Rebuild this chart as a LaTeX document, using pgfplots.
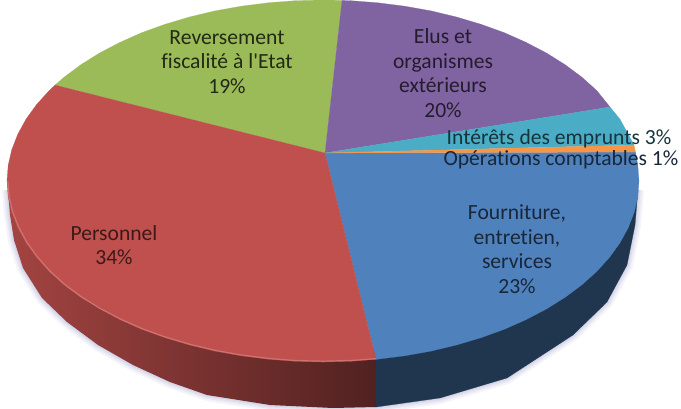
\documentclass[border=0pt]{standalone}
\usepackage{fontspec}
\newfontfamily\calfont[Ligatures=NoCommon]{Carlito}
\usepackage{pgfplots}
\pgfplotsset{compat=1.18}
\definecolor{cgreen}{HTML}{9BBB59}
\definecolor{cpurple}{HTML}{8064A2}
\definecolor{ccyan}{HTML}{4BACC6}
\definecolor{corange}{HTML}{F79646}
\definecolor{cblue}{HTML}{4F81BD}
\definecolor{cred}{HTML}{C0504D}
\definecolor{navy}{HTML}{20364F}
\begin{document}
\begin{tikzpicture}
\begin{axis}[hide axis,scale only axis,width=681pt,height=409pt,xmin=0,xmax=681,ymin=0,ymax=409,y dir=reverse]
% soft shadow round the outer edge
\pgfplotsinvokeforeach{12,8,5,2.5}{
\addplot[draw=gray!70!blue,line width=#1pt,opacity=.07,forget plot] coordinates {(8,190)(10,215)(14,240)(23,268)(42,298)(67,322)(98,345)(133,365)(170,382)(207,395)(270,405)(333,408)(376,407)(440,398)(507,378)(573,335)(607,302)(627,265)(635,225)(638,190)};
}
% sides
\addplot[left color=cred!85!black,middle color=cred!62!black,right color=cred!42!black,draw=none,forget plot] coordinates {(7,181)(8,190)(10,215)(14,240)(23,268)(42,298)(67,322)(98,345)(133,365)(170,382)(207,395)(270,405)(333,408)(376,407)(376,350)} --cycle;
\addplot[fill=navy,draw=navy,line width=.2pt,forget plot] coordinates {(376,350)(376,407)(440,398)(507,378)(573,335)(607,302)(627,265)(635,225)(638,190)} --cycle;
% Reversement 19
\addplot[fill=cgreen,draw=cgreen,line width=.2pt,forget plot] coordinates {(325,153)(342,0.4)(323,0)(295.4,0.7)(268.1,2.8)(241.2,6.2)(214.9,10.9)(189.5,17.0)(165,24.3)(141.7,32.7)(119.9,42.4)(99.6,53)(80.9,64.7)(64.1,77.2)(55,85.1)} --cycle;
% Elus 20
\addplot[fill=cpurple,draw=cpurple,line width=.2pt,forget plot] coordinates {(325,153)(610,107)(596.7,90.5)(581.9,77.2)(565.1,64.7)(546.4,53)(526.1,42.4)(504.3,32.7)(481,24.3)(456.5,17)(431.1,10.9)(404.8,6.2)(377.9,2.8)(350.6,0.7)(342,0.4)} --cycle;
% Fourniture 23
\addplot[fill=cblue,draw=cblue,line width=.2pt,forget plot] coordinates {(325,153)(635.5,152)(637.8,165.2)(639,181)(637.8,196.8)(634.2,212.4)(628.2,227.8)(619.9,242.9)(609.4,257.5)(596.7,271.5)(581.9,284.8)(565.1,297.3)(546.4,309)(526.1,319.6)(504.3,329.3)(481,337.7)(456.5,345)(431.1,351.1)(404.8,355.8)(376,359.4)} --cycle;
% Interets 3
\addplot[fill=ccyan,draw=ccyan,line width=.2pt,forget plot] coordinates {(325,153)(634,145)(628.2,134.2)(619.9,119.1)(610,107)} --cycle;
% Operations 1
\addplot[fill=corange,draw=corange,line width=.2pt,forget plot] coordinates {(325,153)(635.5,152)(634,145)} --cycle;
% Personnel 34
\addplot[fill=cred,draw=cred,line width=.2pt,forget plot] coordinates {(325,153)(376,359.4)(350.6,361.3)(323,362)(295.4,361.3)(268.1,359.2)(241.2,355.8)(214.9,351.1)(189.5,345)(165,337.7)(141.7,329.3)(119.9,319.6)(99.6,308)(80.9,297.3)(64.1,284.8)(49.3,271.5)(36.6,257.5)(26.1,242.9)(17.8,227.8)(11.8,212.4)(8.2,196.8)(7,181)(8.2,165.2)(11.8,149.6)(17.8,134.2)(26.1,119.1)(36.6,104.5)(49.3,90.5)(55,85.1)} --cycle;
% rim highlight
\addplot[draw=cred!80!white,line width=1.2pt,forget plot] coordinates {(376,358.6)(350.6,360.5)(323,361.2)(295.4,360.5)(268.1,358.4)(241.2,355)(214.9,350.3)(189.5,344.2)(165,336.9)(141.7,328.5)(119.9,318.8)(99.6,308.2)(80.9,296.5)(64.1,284)(49.6,270.7)(37.2,256.7)(26.8,242.1)(18.6,227)(12.6,211.6)(9,196)(7.8,181)};
% labels
\tikzset{lab/.style={align=center,font=\calfont\fontsize{21.6}{24.5}\selectfont,inner sep=0pt}}
\node[lab,text=cgreen!22!black] at (axis cs:227,62) {Reversement\\fiscalité à l'Etat\\19\%};
\node[lab,text=cpurple!28!black] at (axis cs:443,73) {Elus et\\organismes\\extérieurs\\20\%};
\node[lab,text=ccyan!30!black] at (axis cs:559,139) {Intérêts des emprunts 3\%};
\node[lab,text=cblue!30!black] at (axis cs:561,160) {Opérations comptables 1\%};
\node[lab,text=cblue!30!black] at (axis cs:517,249) {Fourniture,\\entretien,\\services\\23\%};
\node[lab,text=cred!32!black] at (axis cs:114,245) {Personnel\\34\%};
\end{axis}
\pgfresetboundingbox
\path[use as bounding box] (0,0) rectangle (681pt,409pt);
\end{tikzpicture}
\end{document}
